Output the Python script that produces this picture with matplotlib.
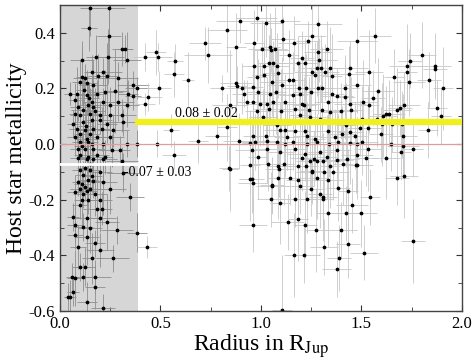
import numpy as np
import matplotlib
matplotlib.use('Agg')
import matplotlib.pyplot as plt

plt.rcParams['font.family'] = 'Liberation Serif'
plt.rcParams['mathtext.fontset'] = 'stix'
plt.rcParams['axes.unicode_minus'] = False

# (radius [RJup], host [Fe/H], radius err, [Fe/H] err) -- planets below the cut
small = [
    (0.149, 0.488, 0.05, 0.10), (0.244, 0.490, 0.08, 0.12), (0.143, 0.416, 0.04, 0.08),
    (0.244, 0.390, 0.06, 0.15), (0.307, 0.342, 0.05, 0.06), (0.323, 0.342, 0.04, 0.05),
    (0.239, 0.315, 0.08, 0.10), (0.179, 0.313, 0.05, 0.08), (0.108, 0.302, 0.06, 0.07),
    (0.335, 0.302, 0.07, 0.10), (0.158, 0.260, 0.04, 0.06), (0.216, 0.260, 0.09, 0.05),
    (0.187, 0.245, 0.05, 0.08), (0.108, 0.242, 0.03, 0.10), (0.124, 0.239, 0.06, 0.05),
    (0.232, 0.245, 0.05, 0.12), (0.290, 0.236, 0.10, 0.06), (0.100, 0.222, 0.04, 0.08),
    (0.133, 0.218, 0.05, 0.05), (0.166, 0.212, 0.07, 0.09), (0.365, 0.212, 0.08, 0.05),
    (0.381, 0.203, 0.06, 0.04), (0.050, 0.182, 0.03, 0.04), (0.083, 0.179, 0.04, 0.10),
    (0.133, 0.176, 0.06, 0.07), (0.182, 0.182, 0.05, 0.05), (0.224, 0.186, 0.09, 0.08),
    (0.274, 0.191, 0.06, 0.15), (0.340, 0.179, 0.05, 0.05), (0.075, 0.158, 0.03, 0.06),
    (0.158, 0.152, 0.05, 0.10), (0.216, 0.150, 0.07, 0.05), (0.290, 0.152, 0.08, 0.07),
    (0.365, 0.174, 0.04, 0.05), (0.141, 0.140, 0.05, 0.08), (0.091, 0.134, 0.04, 0.05),
    (0.116, 0.122, 0.06, 0.12), (0.166, 0.134, 0.04, 0.06), (0.249, 0.140, 0.10, 0.05),
    (0.332, 0.140, 0.06, 0.08), (0.075, 0.110, 0.03, 0.07), (0.100, 0.104, 0.05, 0.05),
    (0.149, 0.110, 0.06, 0.09), (0.199, 0.104, 0.08, 0.05), (0.249, 0.104, 0.05, 0.10),
    (0.307, 0.104, 0.07, 0.06), (0.066, 0.074, 0.03, 0.05), (0.116, 0.080, 0.05, 0.08),
    (0.158, 0.086, 0.04, 0.12), (0.199, 0.086, 0.06, 0.05), (0.232, 0.074, 0.05, 0.07),
    (0.315, 0.078, 0.09, 0.05), (0.083, 0.056, 0.04, 0.06), (0.124, 0.050, 0.05, 0.10),
    (0.166, 0.056, 0.07, 0.05), (0.207, 0.054, 0.04, 0.08), (0.265, 0.050, 0.08, 0.06),
    (0.100, 0.038, 0.03, 0.05), (0.149, 0.038, 0.05, 0.09), (0.075, 0.026, 0.04, 0.07),
    (0.133, 0.020, 0.06, 0.05), (0.182, 0.026, 0.05, 0.12), (0.249, 0.026, 0.07, 0.05),
    (0.100, 0.008, 0.04, 0.06), (0.141, 0.008, 0.05, 0.08), (0.158, 0.002, 0.03, 0.05),
    (0.216, 0.002, 0.08, 0.10), (0.332, 0.002, 0.06, 0.05), (0.381, 0.002, 0.05, 0.05),
    (0.091, -0.016, 0.04, 0.07), (0.124, -0.018, 0.05, 0.05), (0.166, -0.016, 0.06, 0.09),
    (0.257, -0.022, 0.07, 0.06), (0.299, -0.022, 0.05, 0.05), (0.100, -0.040, 0.03, 0.08),
    (0.141, -0.046, 0.05, 0.05), (0.182, -0.040, 0.06, 0.10), (0.224, -0.046, 0.04, 0.06),
    (0.091, -0.050, 0.04, 0.05), (0.133, -0.052, 0.05, 0.07), (0.166, -0.055, 0.06, 0.05),
    (0.216, -0.052, 0.07, 0.08), (0.307, -0.061, 0.08, 0.05), (0.100, -0.094, 0.04, 0.06),
    (0.149, -0.094, 0.05, 0.10), (0.199, -0.100, 0.06, 0.05), (0.315, -0.102, 0.08, 0.07),
    (0.116, -0.112, 0.04, 0.05), (0.141, -0.130, 0.05, 0.08), (0.091, -0.136, 0.03, 0.05),
    (0.166, -0.133, 0.06, 0.06), (0.216, -0.136, 0.07, 0.12), (0.124, -0.154, 0.04, 0.05),
    (0.100, -0.160, 0.05, 0.07), (0.149, -0.160, 0.05, 0.05), (0.249, -0.160, 0.08, 0.09),
    (0.075, -0.172, 0.04, 0.06), (0.116, -0.178, 0.05, 0.05), (0.174, -0.178, 0.06, 0.08),
    (0.348, -0.190, 0.07, 0.05), (0.108, -0.202, 0.04, 0.10), (0.141, -0.202, 0.05, 0.05),
    (0.199, -0.202, 0.06, 0.07), (0.100, -0.220, 0.04, 0.05), (0.182, -0.232, 0.07, 0.12),
    (0.207, -0.232, 0.05, 0.06), (0.066, -0.262, 0.03, 0.05), (0.133, -0.267, 0.06, 0.08),
    (0.199, -0.267, 0.08, 0.05), (0.232, -0.279, 0.06, 0.10), (0.075, -0.291, 0.04, 0.06),
    (0.116, -0.297, 0.05, 0.05), (0.149, -0.303, 0.06, 0.09), (0.282, -0.309, 0.08, 0.05),
    (0.381, -0.318, 0.05, 0.07), (0.075, -0.327, 0.04, 0.05), (0.133, -0.333, 0.06, 0.10),
    (0.174, -0.357, 0.05, 0.05), (0.091, -0.369, 0.04, 0.08), (0.199, -0.381, 0.07, 0.06),
    (0.265, -0.411, 0.08, 0.05), (0.158, -0.411, 0.05, 0.09), (0.100, -0.441, 0.04, 0.05),
    (0.124, -0.441, 0.05, 0.07), (0.058, -0.477, 0.03, 0.05), (0.075, -0.481, 0.04, 0.10),
    (0.116, -0.477, 0.05, 0.05), (0.174, -0.477, 0.08, 0.06), (0.174, -0.513, 0.05, 0.08),
    (0.066, -0.531, 0.03, 0.05), (0.050, -0.549, 0.03, 0.06), (0.041, -0.549, 0.02, 0.05),
    (0.133, -0.567, 0.05, 0.07), (0.216, -0.589, 0.06, 0.05), (0.120, 0.195, 0.04, 0.05),
    (0.145, 0.165, 0.05, 0.06), (0.175, 0.120, 0.05, 0.08), (0.128, 0.065, 0.04, 0.06),
    (0.110, -0.005, 0.04, 0.05), (0.150, -0.070, 0.05, 0.06), (0.125, -0.085, 0.04, 0.05),
    (0.110, -0.145, 0.04, 0.07), (0.135, -0.170, 0.05, 0.05), (0.160, -0.115, 0.05, 0.06),
]

# planets above the cut
large = [
    (0.895, 0.442, 0.12, 0.08), (0.832, 0.410, 0.10, 0.15), (0.721, 0.362, 0.08, 0.06),
    (0.874, 0.350, 0.05, 0.12), (0.423, 0.312, 0.06, 0.05), (0.476, 0.330, 0.05, 0.08),
    (0.486, 0.314, 0.07, 0.05), (0.735, 0.320, 0.12, 0.10), (0.572, 0.300, 0.04, 0.06),
    (0.567, 0.251, 0.05, 0.08), (0.638, 0.230, 0.03, 0.10), (0.804, 0.200, 0.06, 0.05),
    (0.874, 0.218, 0.08, 0.12), (0.879, 0.210, 0.05, 0.07), (0.904, 0.200, 0.07, 0.09),
    (0.917, 0.182, 0.06, 0.05), (0.493, 0.203, 0.06, 0.06), (0.439, 0.170, 0.07, 0.05),
    (0.423, 0.144, 0.05, 0.04), (0.846, 0.140, 0.09, 0.20), (0.932, 0.150, 0.05, 0.08),
    (0.550, 0.050, 0.04, 0.06), (0.688, 0.011, 0.05, 0.08), (0.783, 0.030, 0.06, 0.05),
    (0.832, 0.060, 0.05, 0.12), (0.889, 0.011, 0.08, 0.10), (0.484, 0.002, 0.05, 0.05),
    (0.569, -0.040, 0.06, 0.05), (0.846, -0.090, 0.04, 0.15), (0.434, -0.369, 0.05, 0.04),
    (0.945, 0.003, 0.04, 0.12), (0.945, -0.076, 0.05, 0.10), (0.945, -0.126, 0.04, 0.15),
    (0.841, -0.087, 0.05, 0.08), (1.053, -0.147, 0.06, 0.10),
    (0.978, 0.452, 0.10, 0.08), (1.025, 0.434, 0.08, 0.12), (1.106, 0.442, 0.09, 0.10),
    (1.285, 0.432, 0.12, 0.09), (1.252, 0.390, 0.07, 0.15), (1.111, 0.378, 0.06, 0.08),
    (0.965, 0.362, 0.05, 0.12), (1.166, 0.362, 0.08, 0.10), (1.235, 0.372, 0.06, 0.07),
    (1.476, 0.372, 0.10, 0.08), (1.006, 0.342, 0.07, 0.10), (1.044, 0.350, 0.05, 0.12),
    (1.048, 0.338, 0.09, 0.08), (1.069, 0.342, 0.06, 0.15), (1.326, 0.342, 0.08, 0.10),
    (1.139, 0.320, 0.05, 0.09), (1.285, 0.332, 0.07, 0.12), (1.202, 0.308, 0.06, 0.10),
    (1.290, 0.302, 0.09, 0.08), (0.965, 0.281, 0.06, 0.12), (1.015, 0.281, 0.08, 0.15),
    (1.041, 0.293, 0.05, 0.10), (1.058, 0.290, 0.07, 0.08), (1.078, 0.281, 0.06, 0.12),
    (1.185, 0.290, 0.10, 0.10), (1.219, 0.290, 0.05, 0.09), (1.297, 0.272, 0.06, 0.12),
    (1.277, 0.272, 0.08, 0.10), (1.343, 0.272, 0.07, 0.15), (1.443, 0.272, 0.09, 0.10),
    (0.981, 0.242, 0.05, 0.10), (1.015, 0.248, 0.06, 0.12), (1.086, 0.257, 0.08, 0.09),
    (1.141, 0.230, 0.07, 0.15), (1.157, 0.230, 0.05, 0.10), (1.253, 0.260, 0.09, 0.08),
    (1.268, 0.248, 0.06, 0.12), (1.318, 0.260, 0.07, 0.10), (1.353, 0.245, 0.05, 0.15),
    (1.437, 0.251, 0.08, 0.10), (1.053, 0.222, 0.06, 0.12), (1.106, 0.212, 0.07, 0.10),
    (0.962, 0.204, 0.05, 0.15), (1.189, 0.200, 0.09, 0.10), (1.222, 0.203, 0.06, 0.12),
    (1.282, 0.200, 0.08, 0.09), (1.303, 0.200, 0.05, 0.15), (1.418, 0.200, 0.07, 0.10),
    (0.986, 0.186, 0.06, 0.12), (1.044, 0.182, 0.08, 0.10), (1.074, 0.186, 0.05, 0.15),
    (1.161, 0.176, 0.07, 0.10), (1.194, 0.179, 0.06, 0.12), (1.247, 0.188, 0.09, 0.09),
    (1.351, 0.179, 0.06, 0.15), (1.376, 0.174, 0.08, 0.10), (0.962, 0.152, 0.05, 0.12),
    (0.995, 0.143, 0.07, 0.15), (1.028, 0.143, 0.06, 0.10), (1.061, 0.150, 0.08, 0.12),
    (1.119, 0.152, 0.05, 0.10), (1.202, 0.143, 0.09, 0.15), (1.215, 0.140, 0.06, 0.10),
    (1.335, 0.150, 0.07, 0.12), (1.443, 0.143, 0.08, 0.10), (1.418, 0.170, 0.05, 0.15),
    (0.978, 0.119, 0.06, 0.12), (1.040, 0.128, 0.08, 0.10), (1.102, 0.119, 0.05, 0.15),
    (1.169, 0.128, 0.07, 0.10), (1.240, 0.122, 0.06, 0.12), (1.306, 0.122, 0.09, 0.10),
    (1.343, 0.116, 0.05, 0.15), (1.398, 0.119, 0.08, 0.10), (1.446, 0.122, 0.06, 0.12),
    (1.011, 0.098, 0.07, 0.10), (1.194, 0.104, 0.05, 0.15), (1.243, 0.098, 0.08, 0.10),
    (1.293, 0.092, 0.06, 0.12), (1.078, 0.068, 0.07, 0.10), (1.423, 0.068, 0.05, 0.15),
    (1.094, 0.050, 0.08, 0.10), (1.119, 0.050, 0.06, 0.12), (1.169, 0.047, 0.07, 0.10),
    (1.219, 0.047, 0.05, 0.15), (1.335, 0.047, 0.09, 0.10), (1.443, 0.042, 0.06, 0.12),
    (1.401, 0.038, 0.07, 0.10), (0.962, 0.030, 0.05, 0.15), (1.025, 0.030, 0.08, 0.10),
    (1.127, 0.026, 0.06, 0.12), (1.227, 0.030, 0.07, 0.10), (1.268, 0.020, 0.05, 0.15),
    (1.368, 0.026, 0.08, 0.10), (1.467, 0.030, 0.06, 0.12), (0.970, 0.008, 0.07, 0.10),
    (1.028, 0.011, 0.05, 0.15), (1.078, 0.008, 0.09, 0.10), (1.119, 0.002, 0.06, 0.12),
    (1.161, 0.006, 0.07, 0.10), (1.227, 0.002, 0.05, 0.15), (1.277, 0.008, 0.08, 0.10),
    (1.340, 0.002, 0.06, 0.12), (1.384, 0.008, 0.07, 0.10), (1.443, 0.005, 0.05, 0.15),
    (0.953, -0.022, 0.08, 0.10), (1.028, -0.018, 0.06, 0.12), (1.094, -0.028, 0.07, 0.10),
    (1.169, -0.018, 0.05, 0.15), (1.219, -0.034, 0.09, 0.10), (1.293, -0.028, 0.06, 0.12),
    (1.376, -0.022, 0.07, 0.10), (0.986, -0.046, 0.05, 0.15), (1.036, -0.070, 0.08, 0.10),
    (1.086, -0.078, 0.06, 0.12), (1.091, -0.090, 0.07, 0.10), (1.116, -0.070, 0.05, 0.15),
    (1.185, -0.078, 0.08, 0.10), (1.224, -0.078, 0.06, 0.12), (1.244, -0.061, 0.07, 0.10),
    (1.277, -0.061, 0.05, 0.15), (1.307, -0.061, 0.09, 0.10), (1.202, -0.049, 0.06, 0.12),
    (1.265, -0.052, 0.07, 0.10), (1.326, -0.046, 0.05, 0.15), (1.379, -0.058, 0.08, 0.10),
    (1.426, -0.054, 0.06, 0.12), (1.472, -0.076, 0.07, 0.10), (1.406, -0.070, 0.05, 0.15),
    (1.252, -0.100, 0.08, 0.10), (1.252, -0.096, 0.06, 0.12), (1.313, -0.100, 0.07, 0.10),
    (1.343, -0.079, 0.05, 0.15), (1.356, -0.100, 0.08, 0.10), (0.953, -0.126, 0.06, 0.12),
    (0.958, -0.138, 0.07, 0.10), (1.084, -0.120, 0.05, 0.15), (1.144, -0.120, 0.08, 0.10),
    (1.185, -0.130, 0.06, 0.12), (1.194, -0.150, 0.07, 0.10), (1.277, -0.120, 0.05, 0.15),
    (1.335, -0.130, 0.08, 0.10), (1.384, -0.156, 0.06, 0.12), (1.247, -0.160, 0.07, 0.10),
    (1.434, -0.169, 0.05, 0.15), (1.056, -0.150, 0.08, 0.10), (1.293, -0.180, 0.06, 0.12),
    (1.307, -0.190, 0.07, 0.10), (1.310, -0.198, 0.05, 0.15), (1.169, -0.199, 0.08, 0.10),
    (1.230, -0.199, 0.06, 0.12), (1.049, -0.199, 0.07, 0.10), (1.094, -0.210, 0.05, 0.15),
    (1.451, -0.220, 0.08, 0.10), (1.335, -0.249, 0.06, 0.12), (1.421, -0.249, 0.07, 0.10),
    (1.185, -0.270, 0.05, 0.15), (1.132, -0.280, 0.08, 0.10), (1.219, -0.289, 0.06, 0.12),
    (0.962, -0.289, 0.07, 0.10), (1.273, -0.309, 0.05, 0.15), (1.396, -0.309, 0.08, 0.10),
    (1.434, -0.360, 0.06, 0.12), (1.313, -0.369, 0.07, 0.10), (1.166, -0.399, 0.05, 0.15),
    (1.215, -0.399, 0.08, 0.10), (1.389, -0.409, 0.06, 0.12), (1.376, -0.450, 0.07, 0.10),
    (1.106, -0.597, 0.05, 0.20),
    (1.567, 0.390, 0.08, 0.10), (1.800, 0.320, 0.07, 0.12), (1.742, 0.300, 0.06, 0.10),
    (1.725, 0.282, 0.09, 0.15), (1.725, 0.260, 0.05, 0.10), (1.866, 0.281, 0.08, 0.12),
    (1.866, 0.270, 0.06, 0.10), (1.538, 0.260, 0.07, 0.15), (1.664, 0.242, 0.05, 0.10),
    (1.737, 0.222, 0.08, 0.12), (1.836, 0.230, 0.06, 0.10), (1.907, 0.200, 0.05, 0.15),
    (1.476, 0.212, 0.07, 0.10), (1.581, 0.191, 0.08, 0.12), (1.559, 0.167, 0.06, 0.10),
    (1.509, 0.152, 0.07, 0.15), (1.538, 0.140, 0.05, 0.10), (1.713, 0.140, 0.08, 0.12),
    (1.692, 0.131, 0.06, 0.10), (1.675, 0.122, 0.07, 0.15), (1.874, 0.131, 0.05, 0.10),
    (1.637, 0.110, 0.08, 0.12), (1.621, 0.110, 0.06, 0.10), (1.609, 0.102, 0.07, 0.15),
    (1.896, 0.102, 0.05, 0.10), (1.504, 0.090, 0.08, 0.12), (1.576, 0.090, 0.06, 0.10),
    (1.604, 0.071, 0.07, 0.15), (1.654, 0.071, 0.05, 0.10), (1.700, 0.071, 0.08, 0.12),
    (1.493, 0.059, 0.06, 0.10), (1.534, 0.059, 0.07, 0.15), (1.833, 0.050, 0.05, 0.10),
    (1.504, 0.008, 0.08, 0.12), (1.597, 0.035, 0.06, 0.10), (1.708, 0.030, 0.07, 0.15),
    (1.647, 0.002, 0.05, 0.10), (1.708, -0.006, 0.08, 0.12), (1.476, -0.001, 0.06, 0.10),
    (1.531, -0.018, 0.07, 0.15), (1.758, -0.018, 0.05, 0.10), (1.476, -0.040, 0.08, 0.12),
    (1.521, -0.049, 0.06, 0.10), (1.621, -0.049, 0.07, 0.15), (1.697, -0.030, 0.05, 0.10),
    (1.476, -0.076, 0.08, 0.12), (1.675, -0.120, 0.06, 0.10), (1.713, -0.115, 0.07, 0.15),
    (1.543, -0.189, 0.05, 0.10), (1.498, -0.249, 0.08, 0.12), (1.758, -0.349, 0.06, 0.15),
    (1.514, -0.390, 0.07, 0.10),
]

cut = 0.39
mean_small = -0.07
mean_large = 0.08

fig = plt.figure(figsize=(4.74, 3.6), dpi=100)
ax = fig.add_axes([0.1266, 0.136, 0.848, 0.85])

ax.axvspan(0, cut, color='#d6d6d6', lw=0, zorder=0)

for data, ecol in ((small, '#8e8e8e'), (large, '#c8c8c8')):
    d = np.array(data)
    ax.errorbar(d[:, 0], d[:, 1], xerr=d[:, 2], yerr=d[:, 3], fmt='o', ms=1.7,
                mfc='black', mec='black', ecolor=ecol, elinewidth=0.6, capsize=0, zorder=2)

ax.axhline(0, color='#e59a9a', lw=0.9, zorder=3)
ax.plot([cut - 0.015, 2.0], [mean_large, mean_large], color='#f0f01e', lw=4.5,
        solid_capstyle='butt', zorder=4)
ax.plot([0, cut], [mean_small, mean_small], color='white', lw=2, zorder=4)

ax.text(0.57, 0.111, '0.08 ± 0.02', fontsize=10, va='center', zorder=5)
ax.text(0.32, -0.103, '-0.07 ± 0.03', fontsize=10, va='center', zorder=5)

ax.set_xlim(0, 2.0)
ax.set_ylim(-0.6, 0.5)
ax.set_xticks([0, 0.5, 1.0, 1.5, 2.0])
ax.set_xticks([0.25, 0.75, 1.25, 1.75], minor=True)
ax.set_xticklabels(['0.0', '0.5', '1.0', '1.5', '2.0'])
ax.set_yticks([-0.6, -0.4, -0.2, 0.0, 0.2, 0.4])
ax.set_yticks([-0.5, -0.3, -0.1, 0.1, 0.3, 0.5], minor=True)
ax.set_yticklabels(['-0.6', '-0.4', '-0.2', '0.0', '0.2', '0.4'])
ax.tick_params(which='both', direction='in', top=True, right=True, labelsize=12, color='#333333')
ax.tick_params(which='major', length=4)
ax.tick_params(which='minor', length=3)
for s in ax.spines.values():
    s.set_color('#444444')
    s.set_linewidth(1)

ax.set_ylabel('Host star metallicity', fontsize=17, labelpad=1)
ax.set_xlabel(r'Radius in R$_{\mathrm{Jup}}$', fontsize=17, labelpad=0)

fig.savefig('out.png', dpi=100)
